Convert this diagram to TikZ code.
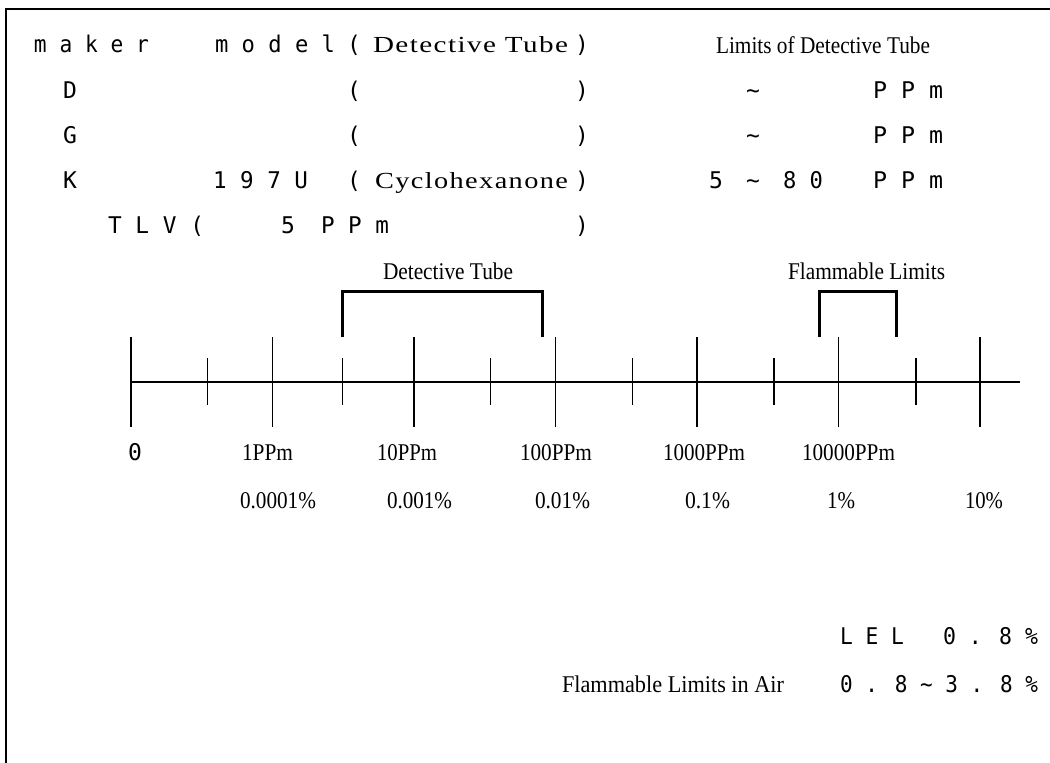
\documentclass[tikz,border=0pt]{standalone}
\usepackage{fontspec}
\usepackage{graphicx}
\setmainfont{Liberation Serif}
\newfontfamily\monof{DejaVu Sans Mono}
\newfontfamily\spsf[LetterSpace=5]{Liberation Serif}
\newcommand\fw[2]{\resizebox{#1pt}{\height}{#2}}
\begin{document}
\begin{tikzpicture}[x=1pt,y=-1pt,
  txt/.style={anchor=base west,inner sep=0pt,outer sep=0pt},
  ctxt/.style={anchor=base,inner sep=0pt,outer sep=0pt},
  mono/.style={txt,font={\monof\fontsize{23}{23}\selectfont}},
  cmono/.style={ctxt,font={\monof\fontsize{23}{23}\selectfont}},
  ser/.style={txt,font={\spsf\fontsize{23}{23}\selectfont}},
  lab/.style={txt,font={\fontsize{24}{24}\selectfont}},
  frame/.style={line width=2.2pt},
  axisline/.style={line width=1.1pt},
  bracket/.style={line width=2.5pt}]
\useasboundingbox (0,0) rectangle (1050,763);
% frame (top and left only)
\draw[frame] (1050,9) -- (6,9) -- (6,763);
% header row
\node[mono] (maker) at (34,52) {\fw{115}{m a k e r}};
\node[mono] (model) at (215,52) {\fw{120}{m o d e l}};
\node[cmono] (lp1) at (354,52) {(};
\node[ser] (dt1) at (373,52) {\fw{195}{Detective Tube}};
\node[cmono] (rp1) at (582,52) {)};
\node[lab] (lim) at (716,53) {\fw{214}{Limits of Detective Tube}};
% row D
\node[cmono] (D) at (70,98) {D};
\node[cmono] (lp2) at (354,98) {(};
\node[cmono] (rp2) at (582,98) {)};
\node[cmono] (t2) at (753,98) {\textasciitilde};
\node[mono] (p2) at (873,98) {\fw{70}{P P m}};
% row G
\node[cmono] (G) at (70,143) {G};
\node[cmono] (lp3) at (354,143) {(};
\node[cmono] (rp3) at (582,143) {)};
\node[cmono] (t3) at (753,143) {\textasciitilde};
\node[mono] (p3) at (873,143) {\fw{70}{P P m}};
% row K
\node[cmono] (K) at (70,188) {K};
\node[mono] (m197) at (213,188) {\fw{95}{1 9 7 U}};
\node[cmono] (lp4) at (354,188) {(};
\node[ser] (cyc) at (375,188) {\fw{193}{Cyclohexanone}};
\node[cmono] (rp4) at (582,188) {)};
\node[cmono] (f5) at (716,188) {5};
\node[cmono] (t4) at (753,188) {\textasciitilde};
\node[mono] (e80) at (783,188) {\fw{40}{8 0}};
\node[mono] (p4) at (873,188) {\fw{70}{P P m}};
% TLV row
\node[mono] (tlv) at (108,233) {\fw{96}{T L V (}};
\node[cmono] (tlv5) at (288,233) {5};
\node[mono] (tlvp) at (321,233) {\fw{68}{P P m}};
\node[cmono] (rp5) at (582,233) {)};
% bracket labels
\node[lab] (bdt) at (383,279) {\fw{130}{Detective Tube}};
\node[lab] (bfl) at (788,279) {\fw{157}{Flammable Limits}};
% brackets
\draw[bracket] (342.7,337) -- (342.7,291.7) -- (542.7,291.7) -- (542.7,337);
\draw[bracket] (819.3,337) -- (819.3,291.7) -- (896.7,291.7) -- (896.7,337);
% axis
\draw[axisline] (131,382) -- (1020,382);
\foreach \x in {131,272.5,414,555.5,697,838.5,980}
  \draw[axisline] (\x,337) -- (\x,427);
\foreach \x in {207.5,342.7,490.7,632.7,774,916}
  \draw[axisline] (\x,358) -- (\x,405);
% axis labels
\node[cmono] (l0) at (135,460) {0};
\node[lab] (l1) at (242,460) {\fw{51}{1PPm}};
\node[lab] (l10) at (377,460) {\fw{60}{10PPm}};
\node[lab] (l100) at (520,460) {\fw{72}{100PPm}};
\node[lab] (l1000) at (663,460) {\fw{82}{1000PPm}};
\node[lab] (l10000) at (802,460) {\fw{93}{10000PPm}};
\node[lab] (q1) at (240,508) {\fw{76}{0.0001\%}};
\node[lab] (q2) at (387,508) {\fw{65}{0.001\%}};
\node[lab] (q3) at (535,508) {\fw{55}{0.01\%}};
\node[lab] (q4) at (685,508) {\fw{45}{0.1\%}};
\node[lab] (q5) at (827,508) {\fw{28}{1\%}};
\node[lab] (q6) at (965,508) {\fw{38}{10\%}};
% bottom
\node[mono] (lel) at (840,644) {\fw{64}{L E L}};
\node[mono] (lelv) at (943,644) {\fw{95}{0 . 8 \%}};
\node[lab] (fla) at (562,692) {\fw{222}{Flammable Limits in Air}};
\node[mono] (flav) at (840,692) {\fw{198}{0 . 8 \textasciitilde{} 3 . 8 \%}};
\end{tikzpicture}
\end{document}
